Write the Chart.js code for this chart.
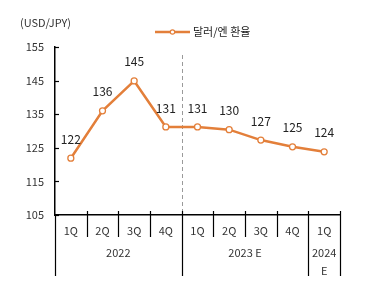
<!DOCTYPE html>
<html><head><meta charset="utf-8">
<script src="https://cdn.jsdelivr.net/npm/chart.js@4.4.1/dist/chart.umd.min.js"></script>
<style>html,body{margin:0;padding:0;background:#fff}#w{width:370px;height:281px}</style>
</head><body><div id="w"><canvas id="c"></canvas></div>
<script>
const quarters = ['1Q','2Q','3Q','4Q','1Q','2Q','3Q','4Q','1Q'];
const yearGroups = [['2022'], ['2023 E'], ['2024','E']];
const yearSpans = [4, 4, 1];
const rates = [121.9, 136.0, 144.9, 131.2, 131.2, 130.4, 127.3, 125.3, 123.8];
const seriesName = '달러/엔 환율';
const unitLabel = '(USD/JPY)';
const yTicks = [105, 115, 125, 135, 145, 155];
const forecastStart = 4;

const FONT = '"Noto Sans CJK KR","Noto Sans",sans-serif';
const ORANGE = '#E37F3A';
const TXT = '#333';

const deco = {
  id: 'deco',
  beforeDatasetsDraw(chart) {
    const ctx = chart.ctx, xs = chart.scales.x, a = chart.chartArea;
    const half = (xs.getPixelForValue(1) - xs.getPixelForValue(0)) / 2;
    const px = Math.round(xs.getPixelForValue(forecastStart) - half) + 0.5;
    ctx.save();
    ctx.strokeStyle = '#9a9a9a'; ctx.lineWidth = 1; ctx.setLineDash([4, 3]);
    ctx.beginPath(); ctx.moveTo(px, 55); ctx.lineTo(px, a.bottom); ctx.stroke();
    ctx.restore();
  },
  afterDraw(chart) {
    const ctx = chart.ctx, xs = chart.scales.x, ys = chart.scales.y, a = chart.chartArea;
    const half = (xs.getPixelForValue(1) - xs.getPixelForValue(0)) / 2;
    ctx.save();
    ctx.strokeStyle = '#000'; ctx.lineWidth = 1.2;
    yTicks.forEach(v => {
      const py = Math.round(ys.getPixelForValue(v)) + 0.5;
      ctx.beginPath(); ctx.moveTo(a.left, py); ctx.lineTo(a.left + 4, py); ctx.stroke();
    });
    const yearBounds = [0];
    yearSpans.reduce((s, n) => { yearBounds.push(s + n); return s + n; }, 0);
    for (let i = 0; i <= quarters.length; i++) {
      const bx = Math.round(xs.getPixelForValue(i) - half) + 0.5;
      const isYear = yearBounds.includes(i);
      ctx.beginPath(); ctx.moveTo(bx, a.bottom - (i === 0 ? 0 : 4)); ctx.lineTo(bx, isYear ? 276 : 237); ctx.stroke();
    }
    ctx.fillStyle = TXT; ctx.font = '11px ' + FONT; ctx.textAlign = 'center'; ctx.textBaseline = 'middle';
    quarters.forEach((q, i) => ctx.fillText(q, xs.getPixelForValue(i), 231));
    let start = 0;
    yearGroups.forEach((lines, g) => {
      const n = yearSpans[g];
      const cx = (xs.getPixelForValue(start) + xs.getPixelForValue(start + n - 1)) / 2;
      lines.forEach((t, k) => ctx.fillText(t, cx, 253 + k * 18));
      start += n;
    });
    ctx.font = '12px ' + FONT; ctx.fillStyle = '#222';
    rates.forEach((v, i) => {
      ctx.fillText(String(Math.round(v)), xs.getPixelForValue(i), ys.getPixelForValue(v) - 19);
    });
    ctx.font = '11px ' + FONT; ctx.textAlign = 'left'; ctx.fillStyle = TXT;
    ctx.fillText(unitLabel, 20, 23);
    ctx.strokeStyle = ORANGE; ctx.lineWidth = 2.5;
    ctx.beginPath(); ctx.moveTo(155, 32); ctx.lineTo(190, 32); ctx.stroke();
    ctx.fillStyle = '#fff'; ctx.lineWidth = 1.2;
    ctx.beginPath(); ctx.arc(172.5, 32, 2.2, 0, Math.PI * 2); ctx.fill(); ctx.stroke();
    ctx.fillStyle = '#222'; ctx.font = '11px ' + FONT;
    ctx.fillText(seriesName, 193, 32);
    ctx.restore();
  }
};

new Chart(document.getElementById('c'), {
  type: 'line',
  data: {
    labels: quarters,
    datasets: [{
      label: seriesName,
      data: rates,
      borderColor: ORANGE,
      borderWidth: 2.5,
      pointRadius: 3,
      pointBorderWidth: 1.3,
      pointBackgroundColor: '#fff',
      pointBorderColor: ORANGE,
      tension: 0
    }]
  },
  options: {
    responsive: true, maintainAspectRatio: false, animation: false,
    layout: { padding: { top: 47, right: 30, bottom: 0, left: 0 } },
    plugins: { legend: { display: false }, tooltip: { enabled: false } },
    scales: {
      x: {
        offset: true,
        grid: { display: false, drawTicks: false },
        border: { display: true, color: '#000', width: 1.5 },
        ticks: { display: false },
        afterFit(s) { s.height = 66; }
      },
      y: {
        min: 105, max: 155,
        afterBuildTicks(s) { s.ticks = yTicks.map(v => ({ value: v })); },
        grid: { display: false, drawTicks: false },
        border: { display: true, color: '#000', width: 1.5 },
        ticks: { color: TXT, font: { family: FONT, size: 11 }, padding: 11 },
        afterFit(s) { s.width = 55; }
      }
    }
  },
  plugins: [deco]
});
</script>
</body></html>
